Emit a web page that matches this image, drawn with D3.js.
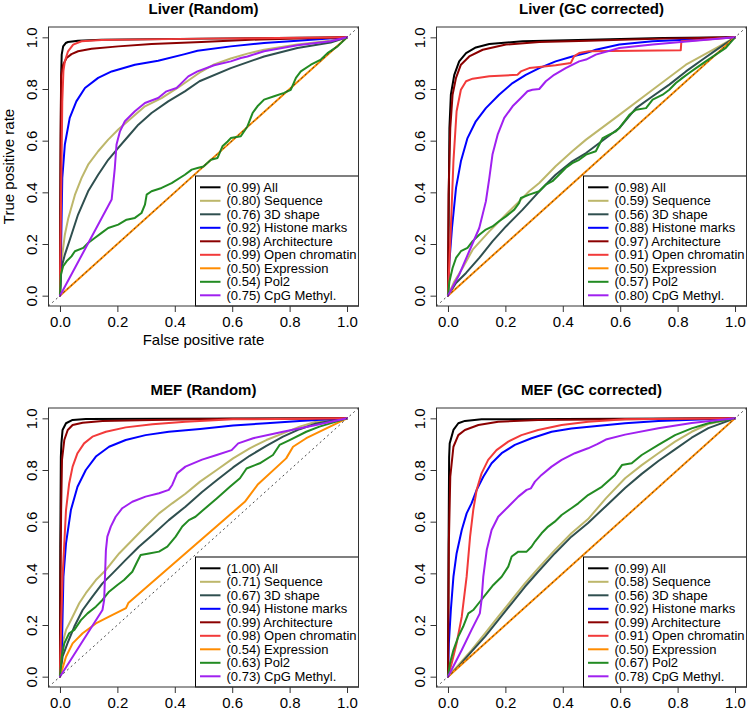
<!DOCTYPE html>
<html>
<head>
<meta charset="utf-8">
<script src="https://cdn.jsdelivr.net/npm/d3@7"></script>
<style>
  html, body { margin: 0; padding: 0; background: #ffffff; }
  svg { display: block; }
</style>
</head>
<body>
<script>
// ---------------- DATA ----------------
const SERIES_NAMES = ["All", "Sequence", "3D shape", "Histone marks", "Architecture",
                      "Open chromatin", "Expression", "Pol2", "CpG Methyl."];
const TICKS = [0, 0.2, 0.4, 0.6, 0.8, 1.0];
const TICK_LABELS = ["0.0", "0.2", "0.4", "0.6", "0.8", "1.0"];
const PANEL_TITLES = ["Liver (Random)", "Liver (GC corrected)", "MEF (Random)", "MEF (GC corrected)"];

const aucLiverRandom = ["0.99", "0.80", "0.76", "0.92", "0.98", "0.99", "0.50", "0.54", "0.75"];
const aucLiverGC     = ["0.98", "0.59", "0.56", "0.88", "0.97", "0.91", "0.50", "0.57", "0.80"];
const aucMefRandom   = ["1.00", "0.71", "0.67", "0.94", "0.99", "0.98", "0.54", "0.63", "0.73"];
const aucMefGC       = ["0.99", "0.58", "0.56", "0.92", "0.99", "0.91", "0.50", "0.67", "0.78"];

// ROC points [false positive rate, true positive rate]
// Liver (Random)
const lrAll  = [[0,0],[0.002,0.5],[0.004,0.85],[0.006,0.933],[0.011,0.965],[0.02,0.978],[0.028,0.982],[0.063,0.987],[0.145,0.991],[0.5,0.995],[1,1]];
const lrSeq  = [[0,0],[0.005,0.133],[0.017,0.236],[0.029,0.3],[0.052,0.39],[0.075,0.455],[0.098,0.507],[0.133,0.559],[0.168,0.604],[0.203,0.643],[0.249,0.688],[0.296,0.733],[0.354,0.765],[0.412,0.806],[0.486,0.863],[0.537,0.895],[0.595,0.918],[0.653,0.937],[0.711,0.952],[0.827,0.972],[0.943,0.987],[1,1]];
const lr3d   = [[0,0],[0.005,0.107],[0.017,0.159],[0.04,0.236],[0.063,0.314],[0.098,0.404],[0.133,0.468],[0.168,0.526],[0.203,0.572],[0.238,0.617],[0.273,0.662],[0.319,0.707],[0.377,0.752],[0.435,0.791],[0.486,0.83],[0.595,0.881],[0.711,0.926],[0.827,0.959],[0.943,0.98],[1,1]];
const lrHist = [[0,0],[0.003,0.133],[0.008,0.455],[0.017,0.585],[0.034,0.688],[0.057,0.752],[0.087,0.804],[0.133,0.843],[0.18,0.868],[0.261,0.894],[0.342,0.909],[0.435,0.935],[0.479,0.948],[0.595,0.965],[0.711,0.978],[0.827,0.987],[1,1]];
const lrArch = [[0,0],[0.002,0.6],[0.004,0.85],[0.011,0.894],[0.023,0.92],[0.04,0.935],[0.063,0.946],[0.11,0.956],[0.203,0.965],[0.319,0.974],[0.493,0.982],[0.7,0.992],[1,1]];
const lrOpen = [[0,0],[0.003,0.3],[0.008,0.75],[0.012,0.87],[0.017,0.907],[0.028,0.946],[0.046,0.972],[0.075,0.985],[0.145,0.99],[0.5,0.995],[1,1]];
const lrExpr = [[0,0],[1,1]];
const lrPol2 = [[0,0],[0.003,0.081],[0.011,0.114],[0.023,0.133],[0.04,0.152],[0.052,0.172],[0.081,0.185],[0.098,0.204],[0.121,0.223],[0.145,0.243],[0.168,0.262],[0.203,0.275],[0.232,0.294],[0.261,0.301],[0.284,0.32],[0.296,0.352],[0.302,0.391],[0.319,0.404],[0.354,0.417],[0.389,0.436],[0.435,0.468],[0.459,0.488],[0.479,0.494],[0.5,0.5],[0.526,0.526],[0.549,0.533],[0.566,0.578],[0.584,0.597],[0.595,0.61],[0.63,0.617],[0.653,0.655],[0.671,0.707],[0.688,0.733],[0.711,0.759],[0.746,0.772],[0.781,0.785],[0.804,0.797],[0.822,0.843],[0.839,0.868],[0.874,0.894],[0.909,0.914],[0.932,0.939],[0.967,0.965],[1,1]];
const lrCpg  = [[0,0],[0.18,0.372],[0.191,0.494],[0.197,0.585],[0.209,0.636],[0.226,0.675],[0.261,0.714],[0.296,0.746],[0.342,0.765],[0.371,0.791],[0.406,0.804],[0.418,0.817],[0.447,0.849],[0.479,0.868],[0.537,0.892],[0.595,0.907],[0.63,0.92],[0.653,0.926],[0.711,0.946],[0.827,0.969],[0.943,0.985],[1,1]];

// Liver (GC corrected)
const lgAll  = [[0,0],[0.003,0.4],[0.005,0.649],[0.01,0.778],[0.022,0.855],[0.039,0.907],[0.063,0.939],[0.097,0.961],[0.144,0.974],[0.26,0.985],[0.491,0.991],[0.75,0.997],[1,1]];
const lgSeq  = [[0,0],[0.022,0.055],[0.051,0.107],[0.086,0.178],[0.144,0.249],[0.202,0.314],[0.248,0.365],[0.283,0.404],[0.318,0.436],[0.375,0.501],[0.433,0.559],[0.481,0.604],[0.597,0.7],[0.713,0.797],[0.829,0.894],[0.945,0.965],[1,1]];
const lg3d   = [[0,0],[0.028,0.049],[0.063,0.088],[0.109,0.146],[0.155,0.21],[0.202,0.268],[0.26,0.333],[0.318,0.404],[0.375,0.468],[0.433,0.52],[0.481,0.552],[0.597,0.649],[0.655,0.726],[0.713,0.772],[0.771,0.817],[0.829,0.868],[0.887,0.914],[0.945,0.959],[1,1]];
const lgHist = [[0,0],[0.005,0.133],[0.014,0.262],[0.028,0.417],[0.045,0.52],[0.068,0.61],[0.097,0.675],[0.132,0.726],[0.178,0.778],[0.225,0.823],[0.271,0.855],[0.318,0.881],[0.375,0.907],[0.433,0.926],[0.481,0.939],[0.515,0.952],[0.597,0.972],[0.713,0.985],[0.829,0.991],[1,1]];
const lgArch = [[0,0],[0.002,0.391],[0.008,0.649],[0.016,0.778],[0.028,0.843],[0.045,0.894],[0.074,0.926],[0.121,0.952],[0.202,0.972],[0.318,0.982],[0.491,0.987],[0.75,0.995],[1,1]];
const lgOpen = [[0,0],[0.01,0.262],[0.019,0.52],[0.03,0.714],[0.045,0.797],[0.063,0.83],[0.086,0.84],[0.144,0.849],[0.242,0.855],[0.254,0.868],[0.283,0.881],[0.318,0.885],[0.375,0.892],[0.428,0.901],[0.439,0.926],[0.457,0.939],[0.491,0.946],[0.811,0.95],[0.813,0.985],[0.9,0.992],[1,1]];
const lgExpr = [[0,0],[1,1]];
const lgPol2 = [[0,0],[0.005,0.055],[0.016,0.107],[0.028,0.146],[0.045,0.172],[0.068,0.185],[0.086,0.211],[0.109,0.236],[0.132,0.256],[0.155,0.268],[0.178,0.288],[0.202,0.307],[0.231,0.333],[0.248,0.359],[0.254,0.378],[0.283,0.391],[0.318,0.404],[0.341,0.43],[0.364,0.443],[0.387,0.468],[0.41,0.494],[0.433,0.513],[0.457,0.526],[0.481,0.546],[0.515,0.559],[0.539,0.61],[0.562,0.623],[0.585,0.636],[0.597,0.649],[0.632,0.7],[0.655,0.72],[0.69,0.726],[0.713,0.759],[0.748,0.778],[0.771,0.797],[0.794,0.823],[0.817,0.843],[0.84,0.862],[0.864,0.881],[0.898,0.907],[0.933,0.933],[0.968,0.959],[1,1]];
const lgCpg  = [[0,0],[0.039,0.081],[0.074,0.172],[0.109,0.262],[0.132,0.365],[0.144,0.455],[0.155,0.546],[0.173,0.623],[0.196,0.688],[0.225,0.733],[0.254,0.765],[0.277,0.791],[0.294,0.797],[0.318,0.8],[0.341,0.83],[0.37,0.855],[0.41,0.881],[0.457,0.907],[0.481,0.914],[0.515,0.933],[0.597,0.959],[0.713,0.972],[0.811,0.982],[1,1]];

// MEF (Random)
const mrAll  = [[0,0],[0.001,0.5],[0.003,0.85],[0.005,0.903],[0.009,0.955],[0.021,0.981],[0.044,0.994],[0.09,0.997],[1,1]];
const mrSeq  = [[0,0],[0.009,0.129],[0.021,0.181],[0.044,0.232],[0.067,0.284],[0.09,0.323],[0.125,0.374],[0.16,0.413],[0.206,0.477],[0.252,0.529],[0.298,0.581],[0.345,0.632],[0.391,0.671],[0.437,0.708],[0.488,0.755],[0.546,0.8],[0.603,0.845],[0.661,0.884],[0.719,0.916],[0.777,0.942],[0.835,0.968],[0.892,0.987],[1,1]];
const mr3d   = [[0,0],[0.009,0.077],[0.026,0.129],[0.05,0.194],[0.079,0.258],[0.113,0.31],[0.148,0.361],[0.183,0.4],[0.229,0.452],[0.275,0.503],[0.322,0.548],[0.379,0.606],[0.437,0.658],[0.495,0.715],[0.546,0.76],[0.603,0.81],[0.661,0.855],[0.719,0.893],[0.777,0.929],[0.835,0.958],[0.892,0.98],[1,1]];
const mrHist = [[0,0],[0.007,0.129],[0.012,0.387],[0.021,0.516],[0.038,0.645],[0.061,0.735],[0.09,0.8],[0.125,0.852],[0.171,0.89],[0.229,0.916],[0.298,0.935],[0.379,0.948],[0.488,0.959],[0.603,0.972],[0.719,0.981],[0.835,0.99],[1,1]];
const mrArch = [[0,0],[0.002,0.4],[0.004,0.645],[0.007,0.839],[0.015,0.916],[0.027,0.955],[0.044,0.974],[0.079,0.983],[0.148,0.99],[0.322,0.994],[0.6,0.998],[1,1]];
const mrOpen = [[0,0],[0.004,0.2],[0.009,0.387],[0.021,0.645],[0.032,0.748],[0.044,0.813],[0.061,0.865],[0.084,0.903],[0.113,0.929],[0.16,0.948],[0.229,0.965],[0.322,0.977],[0.437,0.987],[0.603,0.996],[1,1]];
const mrExpr = [[0,0],[0.021,0.077],[0.044,0.129],[0.079,0.168],[0.125,0.206],[0.171,0.232],[0.23,0.265],[0.238,0.285],[0.644,0.677],[0.69,0.745],[0.788,0.845],[0.812,0.89],[0.858,0.923],[1,1]];
const mrPol2 = [[0,0],[0.006,0.077],[0.015,0.129],[0.032,0.168],[0.05,0.181],[0.073,0.219],[0.096,0.245],[0.125,0.271],[0.148,0.297],[0.171,0.329],[0.2,0.355],[0.223,0.374],[0.252,0.406],[0.269,0.445],[0.281,0.471],[0.31,0.477],[0.345,0.484],[0.374,0.503],[0.403,0.542],[0.426,0.581],[0.449,0.606],[0.472,0.619],[0.499,0.645],[0.546,0.69],[0.592,0.735],[0.627,0.768],[0.65,0.806],[0.696,0.826],[0.742,0.858],[0.765,0.897],[0.8,0.916],[0.858,0.948],[0.904,0.968],[1,1]];
const mrCpg  = [[0,0],[0.148,0.258],[0.154,0.297],[0.16,0.49],[0.165,0.542],[0.177,0.581],[0.194,0.619],[0.217,0.652],[0.252,0.677],[0.298,0.697],[0.345,0.71],[0.379,0.723],[0.391,0.742],[0.408,0.787],[0.437,0.813],[0.495,0.84],[0.546,0.858],[0.598,0.877],[0.621,0.903],[0.673,0.923],[0.777,0.948],[0.892,0.974],[1,1]];

// MEF (GC corrected)
const mgAll  = [[0,0],[0.002,0.5],[0.004,0.85],[0.006,0.903],[0.019,0.955],[0.036,0.981],[0.059,0.99],[0.117,0.996],[1,1]];
const mgSeq  = [[0,0],[0.036,0.045],[0.082,0.103],[0.129,0.168],[0.175,0.232],[0.222,0.297],[0.268,0.361],[0.314,0.419],[0.372,0.49],[0.43,0.555],[0.488,0.61],[0.55,0.69],[0.617,0.768],[0.675,0.819],[0.733,0.865],[0.791,0.91],[0.849,0.948],[0.907,0.978],[1,1]];
const mg3d   = [[0,0],[0.036,0.039],[0.082,0.097],[0.129,0.155],[0.175,0.219],[0.222,0.284],[0.268,0.348],[0.314,0.406],[0.372,0.477],[0.43,0.542],[0.488,0.595],[0.55,0.66],[0.617,0.73],[0.675,0.785],[0.733,0.835],[0.791,0.88],[0.849,0.925],[0.907,0.962],[1,1]];
const mgHist = [[0,0],[0.003,0.129],[0.01,0.258],[0.019,0.387],[0.03,0.477],[0.048,0.568],[0.065,0.632],[0.082,0.671],[0.1,0.723],[0.123,0.774],[0.152,0.826],[0.187,0.865],[0.233,0.897],[0.291,0.923],[0.361,0.948],[0.43,0.961],[0.501,0.968],[0.617,0.981],[0.733,0.99],[1,1]];
const mgArch = [[0,0],[0.002,0.342],[0.003,0.516],[0.008,0.774],[0.019,0.89],[0.036,0.935],[0.059,0.955],[0.106,0.974],[0.175,0.987],[0.314,0.994],[1,1]];
const mgOpen = [[0,0],[0.013,0.052],[0.03,0.129],[0.048,0.232],[0.065,0.387],[0.077,0.542],[0.088,0.645],[0.1,0.723],[0.117,0.787],[0.14,0.839],[0.169,0.877],[0.21,0.91],[0.256,0.935],[0.314,0.955],[0.396,0.974],[0.488,0.987],[0.617,0.996],[1,1]];
const mgExpr = [[0,0],[1,1]];
const mgPol2 = [[0,0],[0.007,0.052],[0.019,0.103],[0.036,0.155],[0.053,0.194],[0.071,0.245],[0.088,0.258],[0.111,0.29],[0.135,0.323],[0.158,0.355],[0.187,0.387],[0.21,0.426],[0.222,0.465],[0.245,0.484],[0.274,0.484],[0.291,0.503],[0.303,0.523],[0.326,0.555],[0.349,0.581],[0.372,0.6],[0.396,0.626],[0.43,0.652],[0.454,0.671],[0.488,0.703],[0.536,0.735],[0.582,0.781],[0.606,0.819],[0.64,0.826],[0.675,0.858],[0.733,0.897],[0.791,0.935],[0.849,0.961],[0.907,0.981],[1,1]];
const mgCpg  = [[0,0],[0.048,0.103],[0.082,0.181],[0.111,0.245],[0.117,0.297],[0.123,0.387],[0.135,0.49],[0.152,0.568],[0.175,0.619],[0.21,0.658],[0.245,0.697],[0.274,0.723],[0.289,0.729],[0.303,0.755],[0.326,0.781],[0.361,0.813],[0.396,0.839],[0.442,0.865],[0.488,0.884],[0.52,0.9],[0.55,0.918],[0.617,0.937],[0.733,0.962],[0.849,0.982],[1,1]];

// ---------------- STYLE / LAYOUT ----------------
const SERIES_COLORS = ["#000000", "#BDB76B", "#2F4F4F", "#0000FF", "#8B0000",
                       "#F23A3A", "#FF8C00", "#228B22", "#A020F0"];
const FONT = "'Liberation Sans', Arial, Helvetica, sans-serif";
const W = 750, H = 710;
const PW = 310, PH = 279;

const panels = [
  { title: PANEL_TITLES[0], left: 48.5, top: 27, auc: aucLiverRandom,
    curves: [lrAll, lrSeq, lr3d, lrHist, lrArch, lrOpen, lrExpr, lrPol2, lrCpg], labels: true },
  { title: PANEL_TITLES[1], left: 436.5, top: 27, auc: aucLiverGC,
    curves: [lgAll, lgSeq, lg3d, lgHist, lgArch, lgOpen, lgExpr, lgPol2, lgCpg], labels: false },
  { title: PANEL_TITLES[2], left: 48.5, top: 408, auc: aucMefRandom,
    curves: [mrAll, mrSeq, mr3d, mrHist, mrArch, mrOpen, mrExpr, mrPol2, mrCpg], labels: false },
  { title: PANEL_TITLES[3], left: 436.5, top: 408, auc: aucMefGC,
    curves: [mgAll, mgSeq, mg3d, mgHist, mgArch, mgOpen, mgExpr, mgPol2, mgCpg], labels: false }
];

const svg = d3.select("body").append("svg")
  .attr("width", W).attr("height", H)
  .style("font-family", FONT);
svg.append("rect").attr("width", W).attr("height", H).attr("fill", "#ffffff");

panels.forEach(p => {
  const g = svg.append("g").attr("transform", `translate(${p.left},${p.top})`);
  const x = d3.scaleLinear().domain([-0.04, 1.04]).range([0, PW]);
  const y = d3.scaleLinear().domain([-0.04, 1.04]).range([PH, 0]);
  const line = d3.line().x(d => x(d[0])).y(d => y(d[1]));

  // curves
  p.curves.forEach((c, i) => {
    g.append("path").datum(c)
      .attr("d", line)
      .attr("fill", "none")
      .attr("stroke", SERIES_COLORS[i])
      .attr("stroke-width", 2)
      .attr("stroke-linejoin", "round")
      .attr("stroke-linecap", "round");
  });

  // legend
  const LW = 163, LT = 149;
  const lg = g.append("g").attr("transform", `translate(${PW - LW},${LT})`);
  lg.append("rect").attr("width", LW).attr("height", PH - LT)
    .attr("fill", "#ffffff").attr("stroke", "#000").attr("stroke-width", 1);
  SERIES_NAMES.forEach((name, i) => {
    const cy = 11.3 + i * 13.5;
    lg.append("line").attr("x1", 4.5).attr("x2", 25).attr("y1", cy).attr("y2", cy)
      .attr("stroke", SERIES_COLORS[i]).attr("stroke-width", 2);
    lg.append("text").attr("x", 31).attr("y", cy).attr("dy", "0.36em")
      .attr("font-size", 13).attr("fill", "#000")
      .text(`(${p.auc[i]}) ${name}`);
  });

  // diagonal reference
  g.append("line")
    .attr("x1", x(-0.04)).attr("y1", y(-0.04))
    .attr("x2", x(1.04)).attr("y2", y(1.04))
    .attr("stroke", "#333").attr("stroke-width", 0.9)
    .attr("stroke-dasharray", "2,3");

  // box
  g.append("rect").attr("width", PW).attr("height", PH)
    .attr("fill", "none").attr("stroke", "#333").attr("stroke-width", 1);

  // x axis
  const xa = g.append("g").attr("transform", `translate(0,${PH})`)
    .call(d3.axisBottom(x).tickValues(TICKS).tickFormat((d, i) => TICK_LABELS[i])
      .tickSizeOuter(0).tickSizeInner(6).tickPadding(4.6));
  xa.select(".domain").remove();
  xa.selectAll(".tick line").attr("stroke", "#333");
  xa.selectAll(".tick text").attr("font-size", 15).attr("font-family", FONT).attr("fill", "#000");

  // y axis
  const ya = g.append("g")
    .call(d3.axisLeft(y).tickValues(TICKS).tickFormat((d, i) => TICK_LABELS[i])
      .tickSizeOuter(0).tickSizeInner(6));
  ya.select(".domain").remove();
  ya.selectAll(".tick line").attr("stroke", "#333");
  ya.selectAll(".tick text")
    .attr("x", null).attr("dy", "0.36em")
    .attr("transform", "translate(-16.5,0) rotate(-90)")
    .attr("text-anchor", "middle")
    .attr("font-size", 15).attr("font-family", FONT).attr("fill", "#000");

  // title
  g.append("text").attr("x", PW / 2).attr("y", -12.7)
    .attr("text-anchor", "middle").attr("font-size", 15).attr("font-weight", "bold")
    .attr("fill", "#000").text(p.title);

  if (p.labels) {
    g.append("text").attr("x", PW / 2).attr("y", PH + 39)
      .attr("text-anchor", "middle").attr("font-size", 15).attr("fill", "#000")
      .text("False positive rate");
    g.append("text")
      .attr("transform", `translate(-34.5,${PH / 2}) rotate(-90)`)
      .attr("text-anchor", "middle").attr("font-size", 15).attr("fill", "#000")
      .text("True positive rate");
  }
});
</script>
</body>
</html>
